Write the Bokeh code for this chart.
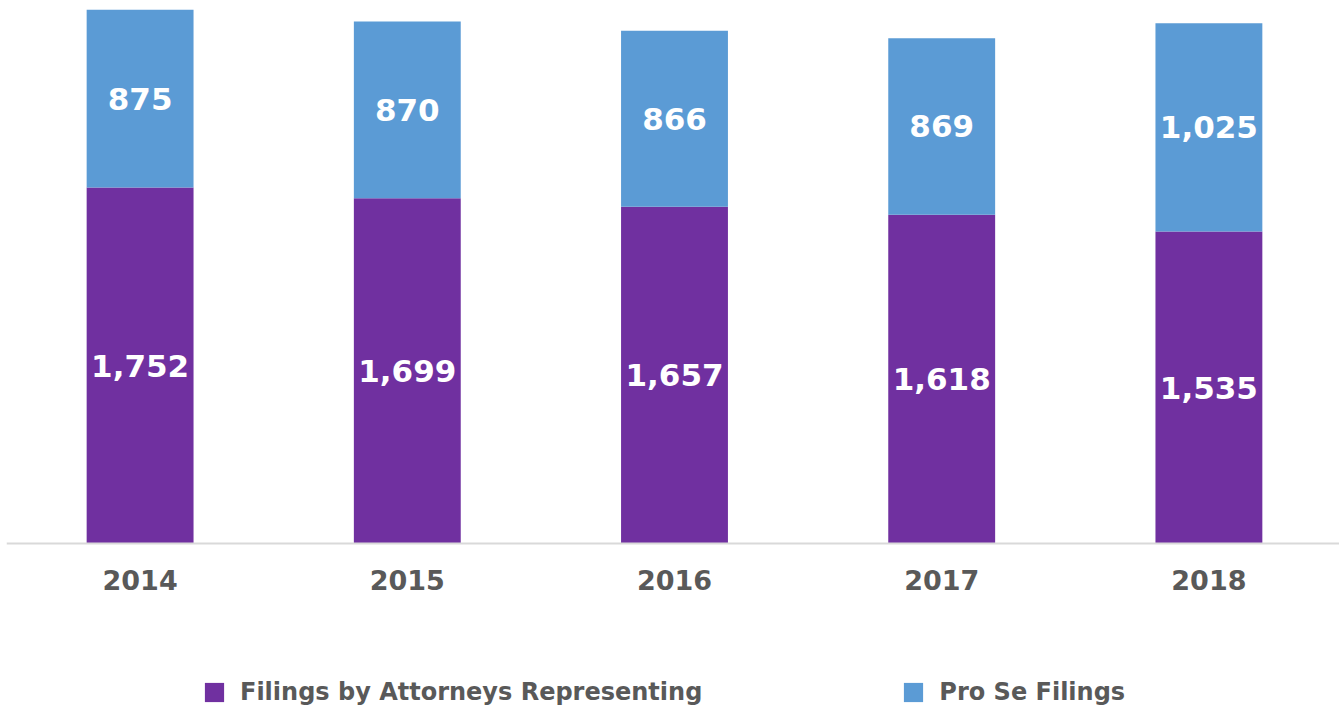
from bokeh.plotting import figure
from bokeh.models import ColumnDataSource, Legend, LegendItem, FactorRange, Range1d, Span
from bokeh.core.properties import value
from bokeh.embed import file_html
from bokeh.resources import INLINE

years = ["2014", "2015", "2016", "2017", "2018"]
attorneys = [1752, 1699, 1657, 1618, 1535]
pro_se = [875, 870, 866, 869, 1025]

PURPLE = "#7030A0"
BLUE = "#5B9BD5"
GRAY = "#595959"
FONT = "DejaVu Sans"

totals = [a + b for a, b in zip(attorneys, pro_se)]
src = ColumnDataSource(dict(
    year=years,
    base=[0] * len(years),
    att_top=attorneys,
    pro_top=totals,
    att_mid=[a / 2 for a in attorneys],
    pro_mid=[a + b / 2 for a, b in zip(attorneys, pro_se)],
    att_lbl=[f"{a:,}" for a in attorneys],
    pro_lbl=[f"{b:,}" for b in pro_se],
))

p = figure(x_range=FactorRange(*years, range_padding=0), y_range=Range1d(-802, 2633),
           frame_width=1336, frame_height=698, output_backend="svg",
           toolbar_location=None, min_border_left=6, min_border_right=0,
           min_border_top=8, min_border_bottom=0)

r1 = p.vbar(x="year", bottom=0, top="att_top", width=0.4, source=src,
            fill_color=PURPLE, line_color=None)
r2 = p.vbar(x="year", bottom="att_top", top="pro_top", width=0.4, source=src,
            fill_color=BLUE, line_color=None)

for ycol, tcol in (("att_mid", "att_lbl"), ("pro_mid", "pro_lbl")):
    p.text(x="year", y=ycol, text=tcol, source=src, text_color="white",
           text_font=value(FONT), text_font_style="bold", text_font_size="31px",
           text_align="center", text_baseline="middle")

# category labels under the baseline
p.text(x="year", y="base", text="year", source=src, text_color=GRAY,
       text_font=value(FONT), text_font_style="bold", text_font_size="27px",
       text_align="center", text_baseline="middle", y_offset=36)

p.add_layout(Span(location=0, dimension="width", line_color="#d9d9d9", line_width=2))

p.xaxis.visible = False
p.yaxis.visible = False
p.xgrid.visible = False
p.ygrid.visible = False
p.outline_line_color = None

legend = Legend(items=[
    LegendItem(label="Filings by Attorneys Representing", renderers=[r1]),
    LegendItem(label="Pro Se Filings", renderers=[r2]),
], orientation="horizontal", location=(196, 0))
legend.label_text_font = FONT
legend.label_text_font_style = "bold"
legend.label_text_font_size = "24px"
legend.label_text_color = GRAY
legend.glyph_width = 24
legend.glyph_height = 24
legend.spacing = 199
legend.border_line_color = None
legend.background_fill_alpha = 0
legend.margin = 0
legend.padding = 0
legend.label_standoff = 14
p.add_layout(legend, "center")

open("out.html", "w").write(file_html(p, INLINE))
